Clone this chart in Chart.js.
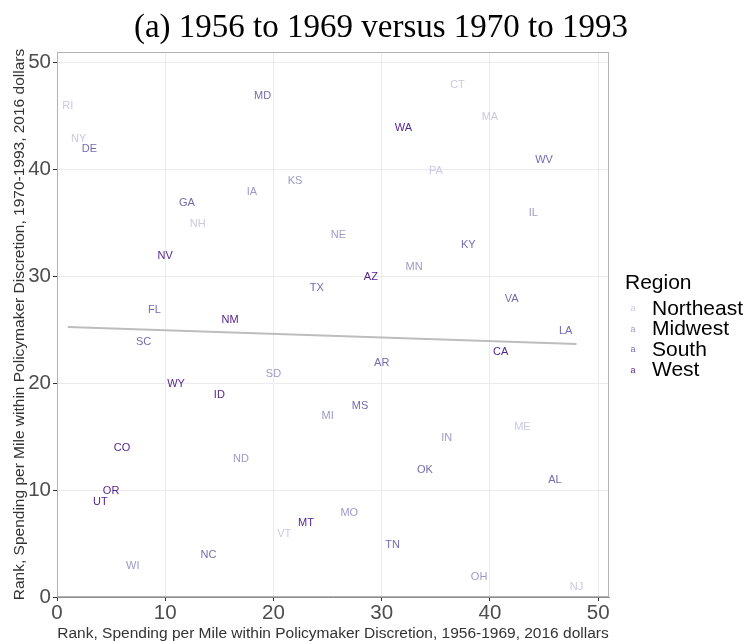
<!DOCTYPE html>
<html>
<head>
<meta charset="utf-8">
<script src="https://cdn.jsdelivr.net/npm/chart.js@4.4.1/dist/chart.umd.min.js"></script>
<style>
  body { margin: 0; background: #fff; }
  #wrap { width: 746px; height: 641px; }
</style>
</head>
<body>
<div id="wrap"><canvas id="rankChart" width="746" height="641"></canvas></div>
<script>
// State ranks
var states = ['RI','NY','DE','UT','OR','CO','WI','SC','FL','NV','WY','GA','NH','NC','ID','NM',
              'ND','IA','MD','SD','VT','KS','MT','TX','MI','NE','MO','MS','AZ','AR','TN','WA',
              'MN','OK','PA','IN','CT','KY','OH','MA','CA','VA','ME','IL','WV','AL','LA','NJ'];
var rank5669 = [1,2,3,4,5,6,7,8,9,10,11,12,13,14,15,16,
                17,18,19,20,21,22,23,24,25,26,27,28,29,30,31,32,
                33,34,35,36,37,38,39,40,41,42,43,44,45,46,47,48];
var rank7093 = [46,43,42,9,10,14,3,24,27,32,20,37,35,4,19,26,
                13,38,47,21,6,39,7,29,17,34,8,18,30,22,5,44,
                31,12,40,15,48,33,2,45,23,28,16,36,41,11,25,1];
var stateRegion = ['Northeast','Northeast','South','West','West','West','Midwest','South','South','West','West','South','Northeast','South','West','West',
                   'Midwest','Midwest','South','Midwest','Northeast','Midwest','West','South','Midwest','Midwest','Midwest','South','West','South','South','West',
                   'Midwest','South','Northeast','Midwest','Northeast','South','Midwest','Northeast','West','South','Northeast','Midwest','South','South','South','Northeast'];

var regionNames = ['Northeast', 'Midwest', 'South', 'West'];
var regionColors = ['#cbc9e2', '#9e9ac8', '#756bb1', '#54278f'];

// fitted line end points
var fitX = [1, 48];
var fitY = [25.26, 23.67];

var xTicks = [0, 10, 20, 30, 40, 50];
var yTicks = [0, 10, 20, 30, 40, 50];

var datasets = regionNames.map(function (reg, r) {
  var pts = [];
  states.forEach(function (s, i) {
    if (stateRegion[i] === reg) pts.push({ x: rank5669[i], y: rank7093[i], label: s });
  });
  return {
    type: 'scatter',
    label: reg,
    data: pts,
    pointRadius: 0,
    pointHoverRadius: 0,
    color: regionColors[r]
  };
});

datasets.unshift({
  type: 'line',
  label: 'fit',
  data: fitX.map(function (x, i) { return { x: x, y: fitY[i] }; }),
  borderColor: '#bdbdbd',
  borderWidth: 2,
  pointRadius: 0,
  fill: false
});

// draws the state abbreviations where the points are
var stateText = {
  id: 'stateText',
  afterDatasetsDraw: function (chart) {
    var ctx = chart.ctx;
    ctx.save();
    ctx.font = '11px "Liberation Sans", Arial, sans-serif';
    ctx.textAlign = 'center';
    ctx.textBaseline = 'middle';
    chart.data.datasets.forEach(function (ds, d) {
      if (ds.type !== 'scatter') return;
      var meta = chart.getDatasetMeta(d);
      ctx.fillStyle = ds.color;
      meta.data.forEach(function (el, j) {
        ctx.fillText(ds.data[j].label, el.x, el.y + 1);
      });
    });
    ctx.restore();
  }
};

// title, panel border and legend
var decor = {
  id: 'decor',
  beforeDatasetsDraw: function (chart) {
    var a = chart.chartArea, ctx = chart.ctx;
    ctx.save();
    ctx.strokeStyle = '#b3b3b3';
    ctx.lineWidth = 1;
    ctx.strokeRect(a.left + 0.5, a.top + 0.5, a.right - a.left - 1, a.bottom - a.top - 1);
    ctx.restore();
  },
  afterDraw: function (chart) {
    var ctx = chart.ctx;
    ctx.save();
    ctx.fillStyle = '#000';
    ctx.textAlign = 'center';
    ctx.textBaseline = 'middle';
    ctx.font = '33px "Liberation Serif", "DejaVu Serif", serif';
    ctx.fillText('(a) 1956 to 1969 versus 1970 to 1993', 381, 28);

    ctx.textAlign = 'left';
    ctx.font = '21px "Liberation Sans", Arial, sans-serif';
    ctx.fillText('Region', 625, 283);
    regionNames.forEach(function (reg, r) {
      var y = 309 + r * 20.4;
      ctx.font = '9px "Liberation Sans", Arial, sans-serif';
      ctx.fillStyle = regionColors[r];
      ctx.textAlign = 'center';
      ctx.fillText('a', 633, y);
      ctx.font = '21px "Liberation Sans", Arial, sans-serif';
      ctx.fillStyle = '#000';
      ctx.textAlign = 'left';
      ctx.fillText(reg, 652, y);
    });
    ctx.restore();
  }
};

function keepTicks(list) {
  return function (scale) {
    scale.ticks = list.map(function (v) { return { value: v }; });
  };
}

new Chart(document.getElementById('rankChart'), {
  data: { datasets: datasets },
  options: {
    responsive: false,
    animation: false,
    layout: { padding: { top: 52, right: 137, left: 0, bottom: 0 } },
    plugins: {
      legend: { display: false },
      tooltip: { enabled: false }
    },
    scales: {
      x: {
        type: 'linear',
        min: 0,
        max: 51,
        afterBuildTicks: keepTicks(xTicks),
        afterFit: function (scale) { scale.height = 44; },
        grid: { color: '#ebebeb', tickColor: '#333', tickLength: 4 },
        border: { color: '#8c8c8c' },
        ticks: {
          color: '#4d4d4d',
          padding: 0,
          maxRotation: 0,
          font: { family: '"Liberation Sans", Arial, sans-serif', size: 20.5 }
        },
        title: {
          display: true,
          text: 'Rank, Spending per Mile within Policymaker Discretion, 1956-1969, 2016 dollars',
          color: '#333',
          padding: { top: 0, bottom: -2 },
          font: { family: '"Liberation Sans", Arial, sans-serif', size: 15.5 }
        }
      },
      y: {
        type: 'linear',
        min: 0,
        max: 51,
        afterBuildTicks: keepTicks(yTicks),
        afterFit: function (scale) { scale.width = 57; },
        grid: { color: '#ebebeb', tickColor: '#333', tickLength: 4 },
        border: { color: '#8c8c8c' },
        ticks: {
          color: '#4d4d4d',
          padding: 2,
          font: { family: '"Liberation Sans", Arial, sans-serif', size: 20.5 }
        },
        title: {
          display: true,
          text: 'Rank, Spending per Mile within Policymaker Discretion, 1970-1993, 2016 dollars',
          color: '#333',
          padding: { top: 10, bottom: 0 },
          font: { family: '"Liberation Sans", Arial, sans-serif', size: 15.5 }
        }
      }
    }
  },
  plugins: [stateText, decor]
});
</script>
</body>
</html>
